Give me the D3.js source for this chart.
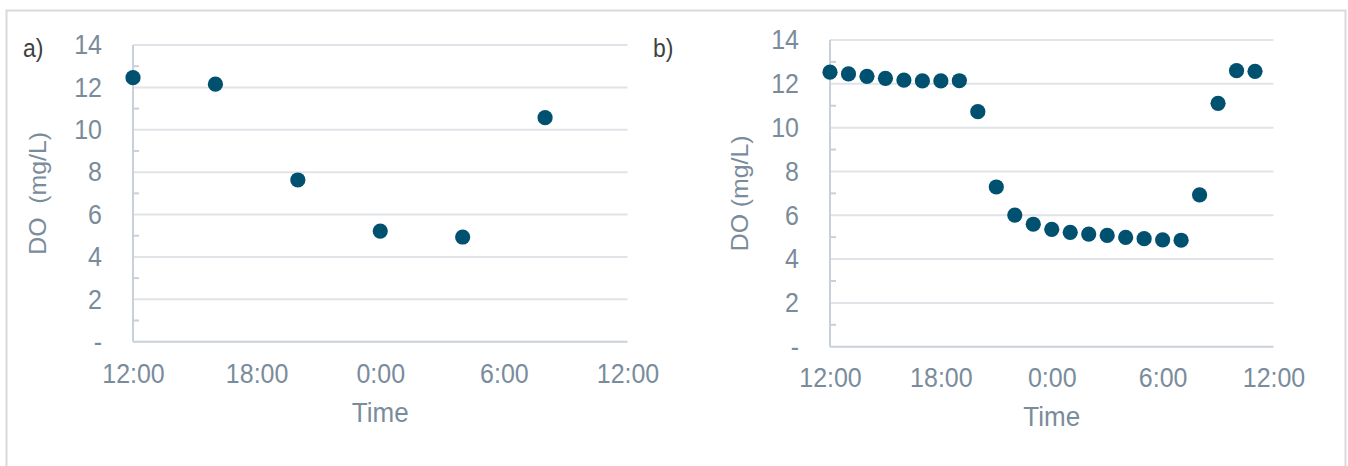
<!DOCTYPE html>
<html>
<head>
<meta charset="utf-8">
<script src="https://cdn.jsdelivr.net/npm/d3@7"></script>
<style>
  html, body { margin: 0; padding: 0; background: #ffffff; }
  svg { display: block; font-family: "Liberation Sans", Arial, sans-serif; }
</style>
</head>
<body>
<svg id="chart" width="1348" height="466"></svg>
<script>
// ---- data ----
const xTickValues = [0, 6, 12, 18, 24];
const xTickLabels = ["12:00", "18:00", "0:00", "6:00", "12:00"];
const yTickValues = [0, 2, 4, 6, 8, 10, 12, 14];
const yMinorValues = [1, 3, 5, 7, 9, 11, 13];

const timesA = ["12:00", "16:00", "20:00", "0:00", "4:00", "8:00"];
const doA = [12.46, 12.15, 7.63, 5.22, 4.94, 10.57];

const timesB = ["12:00", "13:00", "14:00", "15:00", "16:00", "17:00", "18:00", "19:00",
                "20:00", "21:00", "22:00", "23:00", "0:00", "1:00", "2:00", "3:00",
                "4:00", "5:00", "6:00", "7:00", "8:00", "9:00", "10:00", "11:00"];
const doB = [12.53, 12.45, 12.34, 12.25, 12.17, 12.13, 12.13, 12.14,
             10.73, 7.29, 6.01, 5.59, 5.36, 5.22, 5.14, 5.08,
             4.99, 4.93, 4.88, 4.86, 6.93, 11.11, 12.60, 12.57];

// hours elapsed since 12:00 on the first day
function hoursSinceNoon(t) {
  const [h, m] = t.split(":").map(Number);
  const v = h + m / 60;
  return v >= 12 ? v - 12 : v + 12;
}

const svg = d3.select("#chart");
const SY = 1.1; // slight vertical stretch of text as in the reference

// outer frame
svg.append("path")
  .attr("d", "M6.5,470 L6.5,10.5 L1345.5,10.5 L1345.5,470")
  .attr("fill", "none").attr("stroke", "#d9d9d9").attr("stroke-width", 2);

const tickColor = "#7a8c9b";
const gridColor = "#e0e4e8";
const axisColor = "#c8d1d9";
const dotColor = "#00506f";

function panel(cfg) {
  const g = svg.append("g");
  const x = d3.scaleLinear().domain([0, 24]).range([cfg.x0, cfg.x1]);
  const y = d3.scaleLinear().domain([0, 14]).range([cfg.y0, cfg.y1]);

  // gridlines
  g.append("g").selectAll("line").data(yTickValues.filter(d => d > 0)).join("line")
    .attr("x1", cfg.x0).attr("x2", cfg.x1)
    .attr("y1", d => y(d)).attr("y2", d => y(d))
    .attr("stroke", gridColor).attr("stroke-width", 2);

  // minor ticks
  g.append("g").selectAll("line").data(yMinorValues).join("line")
    .attr("x1", cfg.x0).attr("x2", cfg.x0 + 6)
    .attr("y1", d => y(d)).attr("y2", d => y(d))
    .attr("stroke", axisColor).attr("stroke-width", 2);

  // axes lines
  g.append("line").attr("x1", cfg.x0).attr("x2", cfg.x0)
    .attr("y1", cfg.y1).attr("y2", cfg.y0)
    .attr("stroke", axisColor).attr("stroke-width", 2);
  g.append("line").attr("x1", cfg.x0).attr("x2", cfg.x1)
    .attr("y1", cfg.y0).attr("y2", cfg.y0)
    .attr("stroke", axisColor).attr("stroke-width", 2);

  // y axis labels
  const ya = g.append("g").attr("transform", `translate(${cfg.x0},0)`)
    .call(d3.axisLeft(y).tickValues(yTickValues).tickSize(0).tickPadding(31)
      .tickFormat(d => d === 0 ? "-" : String(d)));
  ya.select(".domain").remove();
  ya.selectAll("text").attr("fill", tickColor).attr("transform", `scale(1,${SY})`)
    .style("font-size", "25px").style("font-family", "'Liberation Sans', Arial, sans-serif");

  // x axis labels
  const xa = g.append("g").attr("transform", `translate(0,${cfg.y0})`)
    .call(d3.axisBottom(x).tickValues(xTickValues).tickSize(0)
      .tickFormat((d, i) => xTickLabels[i]));
  xa.select(".domain").remove();
  xa.selectAll("text").attr("fill", tickColor).attr("y", cfg.xLabelBase / SY).attr("dy", 0)
    .attr("transform", `scale(1,${SY})`)
    .style("font-size", "25px").style("font-family", "'Liberation Sans', Arial, sans-serif");

  // axis titles
  g.append("text").text("Time")
    .attr("transform", `translate(${(cfg.x0 + cfg.x1) / 2},${cfg.y0 + cfg.titleBase}) scale(1,1.05)`)
    .attr("text-anchor", "middle").attr("fill", tickColor)
    .style("font-size", "26px");
  g.append("text").text(cfg.yTitle)
    .attr("transform", `translate(${cfg.yTitleX},${(cfg.y0 + cfg.y1) / 2}) rotate(-90) scale(1.08,1)`)
    .attr("text-anchor", "middle").attr("fill", tickColor)
    .style("font-size", "23px").style("white-space", "pre").attr("xml:space", "preserve");

  // panel letter
  g.append("text").text(cfg.letter)
    .attr("transform", `translate(${cfg.letterX},${cfg.letterY}) scale(1,${SY})`)
    .attr("fill", "#404040").style("font-size", "23px");

  // points
  g.append("g").selectAll("circle").data(cfg.times.map((t, i) => ({ t: hoursSinceNoon(t), v: cfg.values[i] })))
    .join("circle")
    .attr("cx", d => x(d.t)).attr("cy", d => y(d.v)).attr("r", 7.6)
    .attr("fill", dotColor);
}

panel({
  x0: 133, x1: 627.5, y0: 341.7, y1: 45,
  xLabelBase: 41, titleBase: 80,
  yTitle: "DO  (mg/L)", yTitleX: 46,
  letter: "a)", letterX: 23, letterY: 57,
  times: timesA, values: doA
});

panel({
  x0: 830, x1: 1273.5, y0: 346.7, y1: 40,
  xLabelBase: 40, titleBase: 79,
  yTitle: "DO (mg/L)", yTitleX: 748,
  letter: "b)", letterX: 653, letterY: 56.5,
  times: timesB, values: doB
});
</script>
</body>
</html>
